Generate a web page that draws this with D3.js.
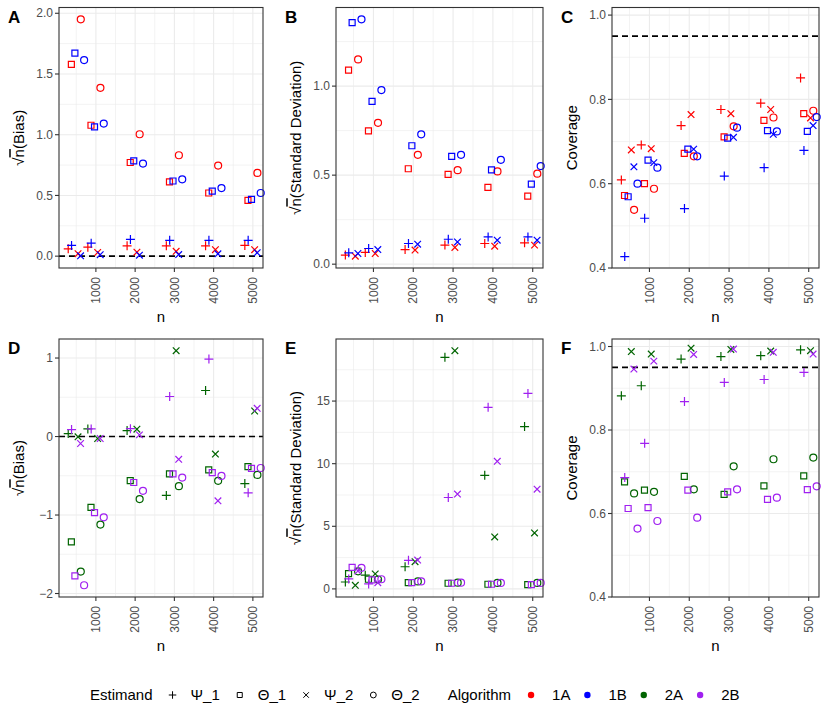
<!DOCTYPE html>
<html>
<head>
<meta charset="utf-8">
<style>
  body { margin: 0; background: #fff; }
  text { font-family: "Liberation Sans", Arial, sans-serif; }
</style>
</head>
<body>
<svg width="830" height="727"></svg>
<script src="https://cdn.jsdelivr.net/npm/d3@7"></script>
<script>

// ---- data ----
var nValues = [500, 1000, 2000, 3000, 4000, 5000];
var estimands = ["Ψ_1", "Θ_1", "Ψ_2", "Θ_2"];
var algorithms = ["1A", "1B", "2A", "2B"];

// rows: Ψ_1, Θ_1, Ψ_2, Θ_2 ; columns: n
var bias1A = [
  [0.060, 0.074, 0.085, 0.085, 0.085, 0.088],
  [1.579, 1.078, 0.771, 0.611, 0.520, 0.460],
  [0.020, 0.030, 0.033, 0.040, 0.053, 0.053],
  [1.950, 1.386, 1.004, 0.831, 0.746, 0.685]
];
var bias1B = [
  [0.088, 0.107, 0.138, 0.130, 0.130, 0.130],
  [1.672, 1.065, 0.784, 0.619, 0.536, 0.468],
  [0.003, 0.012, 0.008, 0.013, 0.019, 0.028],
  [1.615, 1.092, 0.762, 0.633, 0.561, 0.520]
];
var sd1A = [
  [0.051, 0.066, 0.082, 0.107, 0.116, 0.120],
  [1.090, 0.749, 0.536, 0.504, 0.431, 0.382],
  [0.045, 0.060, 0.079, 0.094, 0.101, 0.107],
  [1.150, 0.794, 0.614, 0.528, 0.521, 0.508]
];
var sd1B = [
  [0.064, 0.088, 0.116, 0.140, 0.153, 0.153],
  [1.356, 0.914, 0.665, 0.605, 0.530, 0.449],
  [0.060, 0.082, 0.112, 0.125, 0.135, 0.135],
  [1.375, 0.978, 0.729, 0.614, 0.586, 0.551]
];
var cov1A = [
  [0.609, 0.692, 0.738, 0.776, 0.791, 0.851],
  [0.572, 0.600, 0.672, 0.711, 0.750, 0.766],
  [0.680, 0.683, 0.764, 0.766, 0.776, 0.756],
  [0.538, 0.588, 0.665, 0.736, 0.757, 0.773]
];
var cov1B = [
  [0.427, 0.518, 0.541, 0.618, 0.638, 0.679],
  [0.569, 0.656, 0.682, 0.708, 0.726, 0.724],
  [0.640, 0.650, 0.682, 0.710, 0.717, 0.738],
  [0.600, 0.638, 0.665, 0.733, 0.724, 0.758]
];
var bias2A = [
  [0.038, 0.097, 0.076, -0.751, 0.586, -0.599],
  [-1.342, -0.903, -0.561, -0.477, -0.426, -0.384],
  [-0.004, -0.025, 0.093, 1.093, -0.224, 0.325],
  [-1.720, -1.122, -0.797, -0.633, -0.565, -0.489]
];
var bias2B = [
  [0.089, 0.097, 0.100, 0.510, 0.987, -0.717],
  [-1.776, -0.970, -0.586, -0.477, -0.460, -0.405],
  [-0.089, -0.025, 0.021, -0.291, -0.819, 0.359],
  [-1.895, -1.030, -0.692, -0.523, -0.502, -0.401]
];
var sd2A = [
  [0.55, 1.10, 1.77, 18.49, 9.07, 12.96],
  [1.22, 0.77, 0.50, 0.45, 0.37, 0.34],
  [0.29, 1.20, 2.17, 19.02, 4.15, 4.47],
  [1.40, 0.75, 0.60, 0.50, 0.48, 0.48]
];
var sd2B = [
  [0.80, 0.40, 2.28, 7.30, 14.50, 15.61],
  [1.72, 0.72, 0.50, 0.45, 0.37, 0.34],
  [1.43, 0.50, 2.30, 7.57, 10.19, 7.96],
  [1.68, 0.77, 0.60, 0.50, 0.48, 0.48]
];
var cov2A = [
  [0.882, 0.906, 0.970, 0.976, 0.978, 0.992],
  [0.676, 0.656, 0.689, 0.646, 0.666, 0.690],
  [0.988, 0.982, 0.996, 0.993, 0.989, 0.990],
  [0.648, 0.652, 0.658, 0.713, 0.730, 0.734]
];
var cov2B = [
  [0.686, 0.768, 0.868, 0.914, 0.921, 0.938],
  [0.612, 0.614, 0.656, 0.652, 0.634, 0.657],
  [0.946, 0.965, 0.981, 0.994, 0.986, 0.982],
  [0.564, 0.582, 0.590, 0.658, 0.638, 0.665]
];

var xTicks = [1000, 2000, 3000, 4000, 5000];
var biasTicks1 = [0, 0.5, 1.0, 1.5, 2.0];
var sdTicks1 = [0, 0.5, 1.0];
var covTicks = [0.4, 0.6, 0.8, 1.0];
var biasTicks2 = [-2, -1, 0, 1];
var sdTicks2 = [0, 5, 10, 15];
var covLimits = [0.4, 1.0];
var covTarget = 0.95;

// ---- layout / style ----
var colour = { "1A": "#ff0000", "1B": "#0000ff", "2A": "#006400", "2B": "#a020f0" };
// horizontal dodge (in n units) per estimand, for first / second algorithm
var dodge = [[-205, -120], [-125, -35], [45, 110], [115, 200]];
var cols = [[59, 263], [336, 543], [612, 819]];
var rows = [[7.5, 268], [339, 597]];
var xDomain = [60, 5258];

var svg = d3.select("svg");

// custom stroke symbols, like ggplot shapes 3 / 0 / 4 / 1
var plusSym = { draw: function(c, s) { var r = Math.sqrt(s) / 2;
  c.moveTo(-r, 0); c.lineTo(r, 0); c.moveTo(0, -r); c.lineTo(0, r); } };
var timesSym = { draw: function(c, s) { var r = Math.sqrt(s) / 2;
  c.moveTo(-r, -r); c.lineTo(r, r); c.moveTo(-r, r); c.lineTo(r, -r); } };
var squareSym = { draw: function(c, s) { var r = Math.sqrt(s) / 2;
  c.moveTo(-r, -r); c.lineTo(r, -r); c.lineTo(r, r); c.lineTo(-r, r); c.closePath(); } };
var circleSym = { draw: function(c, s) { var r = Math.sqrt(s) / 2;
  c.moveTo(r, 0); c.arc(0, 0, r, 0, 2 * Math.PI); } };
var shapes = [plusSym, squareSym, timesSym, circleSym];
var shapeSize = [81, 36, 44, 49];

var panels = [
  { id: "A", col: 0, row: 0, series: [bias1A, bias1B], algs: ["1A", "1B"], title: "(Bias)", sqrt: true, ticks: biasTicks1, fmt: ".1f", ref: 0 },
  { id: "B", col: 1, row: 0, series: [sd1A, sd1B], algs: ["1A", "1B"], title: "(Standard Deviation)", sqrt: true, ticks: sdTicks1, fmt: ".1f", ref: null },
  { id: "C", col: 2, row: 0, series: [cov1A, cov1B], algs: ["1A", "1B"], title: "Coverage", sqrt: false, ticks: covTicks, fmt: ".1f", ref: covTarget, limits: covLimits },
  { id: "D", col: 0, row: 1, series: [bias2A, bias2B], algs: ["2A", "2B"], title: "(Bias)", sqrt: true, ticks: biasTicks2, fmt: "d", ref: 0 },
  { id: "E", col: 1, row: 1, series: [sd2A, sd2B], algs: ["2A", "2B"], title: "(Standard Deviation)", sqrt: true, ticks: sdTicks2, fmt: "d", ref: null },
  { id: "F", col: 2, row: 1, series: [cov2A, cov2B], algs: ["2A", "2B"], title: "Coverage", sqrt: false, ticks: covTicks, fmt: ".1f", ref: covTarget, limits: covLimits }
];

function minorOf(ticks) {
  var step = ticks[1] - ticks[0], out = [];
  for (var i = -1; i < ticks.length; i++) out.push(ticks[0] + (i + 0.5) * step);
  return out;
}

panels.forEach(function(p) {
  var x0 = cols[p.col][0], x1 = cols[p.col][1];
  var y0 = rows[p.row][0], y1 = rows[p.row][1];

  var x = d3.scaleLinear().domain(xDomain).range([x0, x1]);
  var dom;
  if (p.limits) {
    dom = [p.limits[0], p.limits[1] + 0.03 * (p.limits[1] - p.limits[0])];
  } else {
    var vals = d3.merge(p.series.map(function(s) { return d3.merge(s); }));
    if (p.ref !== null) vals.push(p.ref);
    var ext = d3.extent(vals), pad = 0.05 * (ext[1] - ext[0]);
    dom = [ext[0] - pad, ext[1] + pad];
  }
  var y = d3.scaleLinear().domain(dom).range([y1, y0]);

  var g = svg.append("g");

  // grid
  var yMinor = minorOf(p.ticks).filter(function(v) { return v > dom[0] && v < dom[1]; });
  var xMinor = minorOf(xTicks).filter(function(v) { return v > xDomain[0] && v < xDomain[1]; });
  g.selectAll(".ymin").data(yMinor).enter().append("line")
    .attr("x1", x0).attr("x2", x1).attr("y1", y).attr("y2", y)
    .attr("stroke", "#ebebeb").attr("stroke-width", 0.6);
  g.selectAll(".xmin").data(xMinor).enter().append("line")
    .attr("x1", x).attr("x2", x).attr("y1", y0).attr("y2", y1)
    .attr("stroke", "#ebebeb").attr("stroke-width", 0.6);
  g.selectAll(".ymaj").data(p.ticks).enter().append("line")
    .attr("x1", x0).attr("x2", x1).attr("y1", y).attr("y2", y)
    .attr("stroke", "#ebebeb").attr("stroke-width", 1.1);
  g.selectAll(".xmaj").data(xTicks).enter().append("line")
    .attr("x1", x).attr("x2", x).attr("y1", y0).attr("y2", y1)
    .attr("stroke", "#ebebeb").attr("stroke-width", 1.1);

  // reference line
  if (p.ref !== null) {
    g.append("line")
      .attr("x1", x0).attr("x2", x1).attr("y1", y(p.ref)).attr("y2", y(p.ref))
      .attr("stroke", "#000").attr("stroke-width", 1.6).attr("stroke-dasharray", "6,4");
  }

  // points
  p.series.forEach(function(s, a) {
    s.forEach(function(row, e) {
      var sym = d3.symbol().type(shapes[e]).size(shapeSize[e]);
      g.selectAll(null).data(row).enter().append("path")
        .attr("d", sym)
        .attr("transform", function(v, i) {
          return "translate(" + x(nValues[i] + dodge[e][a]) + "," + y(v) + ")";
        })
        .attr("fill", "none")
        .attr("stroke", colour[p.algs[a]])
        .attr("stroke-width", 1.2);
    });
  });

  // border
  g.append("rect").attr("x", x0).attr("y", y0).attr("width", x1 - x0).attr("height", y1 - y0)
    .attr("fill", "none").attr("stroke", "#333").attr("stroke-width", 1.1);

  // y axis
  var fmt = d3.format(p.fmt);
  g.selectAll(".yt").data(p.ticks).enter().append("line")
    .attr("x1", x0 - 4).attr("x2", x0).attr("y1", y).attr("y2", y)
    .attr("stroke", "#333").attr("stroke-width", 1.1);
  g.selectAll(".yl").data(p.ticks).enter().append("text")
    .attr("x", x0 - 6).attr("y", y).attr("dy", "0.35em")
    .attr("text-anchor", "end").attr("font-size", 12).attr("fill", "#4d4d4d")
    .text(function(v) { return fmt(v); });

  // x axis
  g.selectAll(".xt").data(xTicks).enter().append("line")
    .attr("x1", x).attr("x2", x).attr("y1", y1).attr("y2", y1 + 4)
    .attr("stroke", "#333").attr("stroke-width", 1.1);
  g.selectAll(".xl").data(xTicks).enter().append("text")
    .attr("transform", function(v) { return "translate(" + x(v) + "," + (y1 + 9) + ") rotate(-90)"; })
    .attr("dy", "0.35em").attr("text-anchor", "end")
    .attr("font-size", 12).attr("fill", "#4d4d4d")
    .text(function(v) { return v; });

  g.append("text")
    .attr("x", (x0 + x1) / 2).attr("y", y1 + 54)
    .attr("text-anchor", "middle").attr("font-size", 15)
    .text("n");

  // y title
  var yt = g.append("text")
    .attr("transform", "translate(" + (x0 - 40) + "," + ((y0 + y1) / 2) + ") rotate(-90)")
    .attr("dy", "0.35em").attr("text-anchor", "middle").attr("font-size", 15);
  if (p.sqrt) {
    yt.append("tspan").text("√");
    yt.append("tspan").style("text-decoration", "overline").text("n");
  }
  yt.append("tspan").text(p.title);

  // panel tag
  g.append("text")
    .attr("x", x0 - 51).attr("y", y0 + 15)
    .attr("font-size", 17).attr("font-weight", "bold")
    .text(p.id);
});

// ---- legend ----
var leg = svg.append("g").attr("transform", "translate(0,695)");
var cx = 90;
function legText(t) {
  var el = leg.append("text").attr("x", cx).attr("y", 0).attr("dy", "0.35em")
    .attr("font-size", 15).text(t);
  cx += el.node().getComputedTextLength();
}
legText("Estimand");
estimands.forEach(function(name, e) {
  cx += 20;
  leg.append("path")
    .attr("d", d3.symbol().type(shapes[e]).size(shapeSize[e] * 0.7))
    .attr("transform", "translate(" + cx + ",0)")
    .attr("fill", "none").attr("stroke", "#000").attr("stroke-width", 1);
  cx += 18;
  legText(name);
});
cx += 28;
legText("Algorithm");
algorithms.forEach(function(name, k) {
  cx += k === 0 ? 20 : 17;
  leg.append("circle").attr("cx", cx).attr("cy", 0).attr("r", 3.2)
    .attr("fill", colour[name]);
  cx += 21;
  legText(name);
});

</script>
</body>
</html>
